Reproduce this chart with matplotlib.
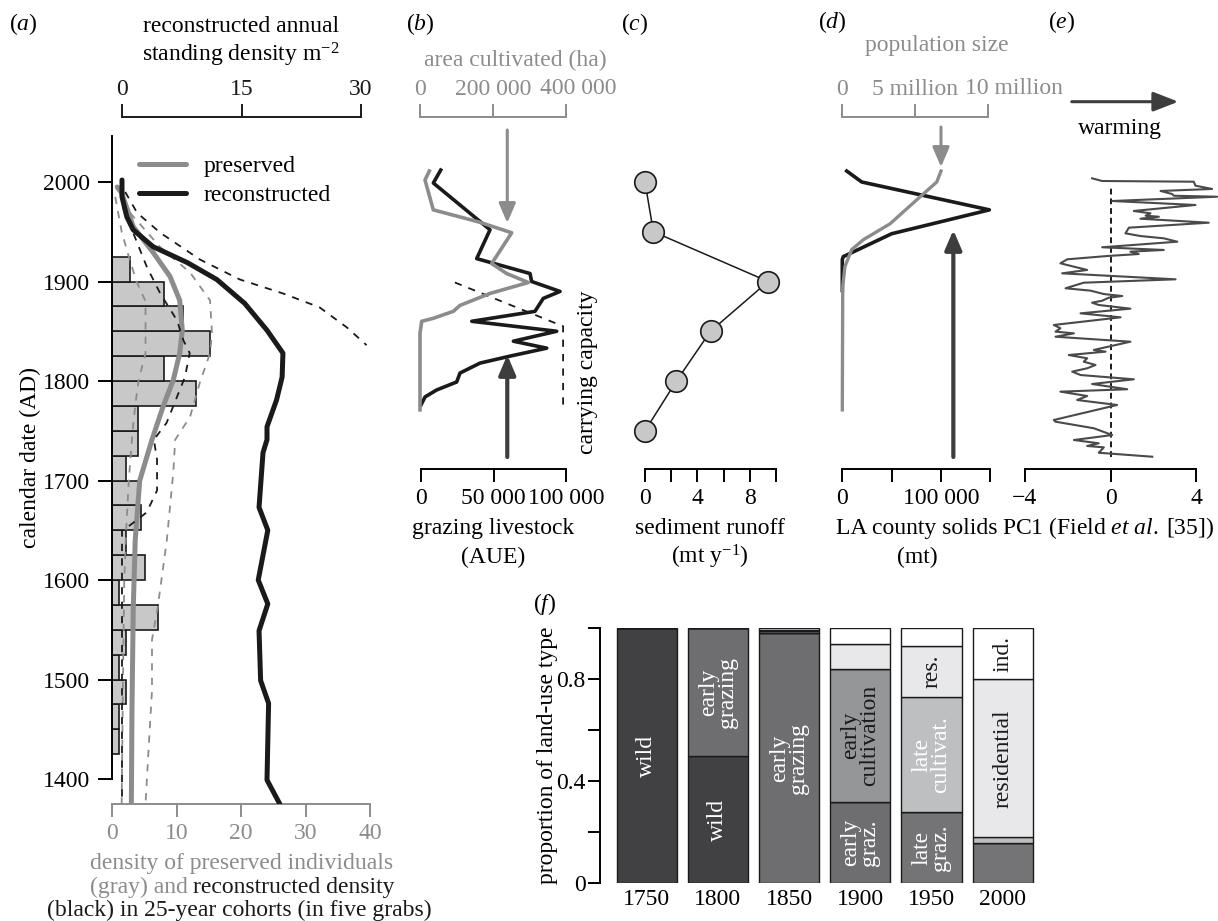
import numpy as np
import matplotlib
matplotlib.use('Agg')
import matplotlib.pyplot as plt
from matplotlib.lines import Line2D

plt.rcParams['font.family'] = ['Liberation Serif', 'DejaVu Serif']
plt.rcParams['mathtext.fontset'] = 'custom'
plt.rcParams['mathtext.rm'] = 'Liberation Serif'
plt.rcParams['mathtext.it'] = 'Liberation Serif:italic'
plt.rcParams['font.size'] = 17
plt.rcParams['axes.linewidth'] = 1.4
plt.rcParams['xtick.major.width'] = 1.4
plt.rcParams['ytick.major.width'] = 1.4

BLACK = '#1a1a1a'
GRAY = '#8c8c8c'
DARK = '#3d3d3d'
BAR_FILL = '#c8c8c8'

# ---- (a) densities -------------------------------------------------------
bin_start = [1425, 1450, 1475, 1500, 1525, 1550, 1575, 1600, 1625, 1650,
             1675, 1700, 1725, 1750, 1775, 1800, 1825, 1850, 1875, 1900]
preserved_counts = [1.1, 1.1, 2.1, 1.1, 2.1, 7.1, 1.1, 5.1, 2.1, 4.5,
                    4.0, 2.1, 4.0, 4.0, 13.1, 8.1, 15.2, 11.0, 8.1, 2.8]

pres_years = [1995, 1989, 1955, 1929, 1905, 1881, 1851, 1828, 1801, 1774,
              1741, 1700, 1640, 1573, 1472, 1375]
pres_vals = [0.8, 1.5, 3.3, 6.4, 9.0, 10.5, 10.9, 10.5, 9.5, 7.9,
             6.2, 4.3, 3.6, 3.3, 3.1, 3.0]
pres_hi_years = [1969, 1935, 1909, 1881, 1848, 1828, 1798, 1764, 1741, 1708,
                 1640, 1573, 1540, 1489, 1422, 1375]
pres_hi = [2.8, 7.4, 12.1, 15.2, 15.5, 15.2, 13.6, 12.1, 9.8, 9.5,
           8.5, 7.1, 6.2, 6.2, 5.6, 5.2]
pres_lo_years = [1985, 1950, 1925, 1900, 1880, 1850, 1828, 1800, 1775, 1750,
                 1700, 1650, 1600, 1500, 1375]
pres_lo = [0.5, 1.5, 2.6, 3.8, 5.2, 5.2, 5.2, 4.1, 3.6, 3.2,
           2.6, 2.2, 1.9, 1.7, 1.5]

rec_years = [2002, 1985, 1965, 1952, 1935, 1919, 1902, 1878, 1851, 1828,
             1804, 1781, 1754, 1741, 1728, 1673, 1650, 1600, 1576, 1549,
             1499, 1476, 1399, 1375]
rec_vals = [0, 0, 0.6, 1.4, 3.9, 8.2, 11.9, 15.4, 18.2, 20.2,
            20.1, 19.4, 18.2, 18.2, 17.7, 17.2, 18.3, 17.1, 18.3, 17.2,
            17.4, 18.4, 18.2, 19.8]
rec_hi_years = [1990, 1969, 1949, 1922, 1902, 1888, 1874, 1854, 1836]
rec_hi = [0.4, 1.9, 4.8, 9.8, 14.8, 20.2, 24.8, 28.2, 30.7]
rec_lo_years = [1975, 1949, 1915, 1888, 1861, 1841, 1828, 1804, 1774, 1758,
                1741, 1721, 1690, 1668, 1655, 1650, 1375]
rec_lo = [0.1, 1.4, 3.1, 4.8, 6.9, 7.7, 8.5, 7.9, 6.4, 5.6,
          4.0, 4.4, 4.4, 3.1, 1.0, 0, 0]

# ---- (b) livestock / cultivation ---------------------------------------
livestock_years = [2012, 1999, 1952, 1923, 1908, 1900, 1890, 1883, 1870, 1860,
                   1850, 1840, 1833, 1825, 1818, 1808, 1799, 1791, 1784, 1776]
livestock = [13600, 8500, 47600, 38400, 75200, 76300, 95900, 84300, 78600, 35000,
             93600, 63700, 86700, 61400, 40700, 26900, 24600, 10800, 2800, 0]
area_years = [2011, 2002, 1972, 1960, 1949, 1918, 1908, 1899, 1888, 1876,
              1870, 1863, 1860, 1848, 1771]
area = [25500, 13700, 36400, 159700, 251200, 196400, 237500, 296700, 191800, 109600,
        91200, 36400, 4700, 0, 0]
carrying_years = [1899, 1855, 1772]
carrying = [23400, 98000, 98000]

# ---- (c) sediment --------------------------------------------------------
sed_years = [2000, 1950, 1900, 1850, 1800, 1750]
sediment = [0, 0.64, 9.4, 5.0, 2.4, 0]

# ---- (d) solids / population --------------------------------------------
solids_years = [2011, 2000, 1972, 1948, 1925, 1922, 1891]
solids = [4500, 19700, 149000, 50000, 1000, 0, 0]
pop_years = [2011, 2000, 1985, 1958, 1942, 1932, 1915, 1895, 1771]
pop_millions = [6.76, 6.47, 5.32, 3.27, 1.44, 0.64, 0.18, 0.03, 0]

# ---- (e) PC1 -------------------------------------------------------------
pc1_years = [2003.7, 2001.0, 2000.3, 1996.3, 1993.0, 1991.0, 1987.9, 1986.2, 1985.2, 1980.9,
             1976.9, 1970.9, 1968.5, 1966.1, 1965.1, 1963.1, 1959.1, 1954.1, 1948.4, 1945.7,
             1943.4, 1940.0, 1934.4, 1931.7, 1930.0, 1927.6, 1925.6, 1922.3, 1918.3, 1914.9,
             1911.6, 1908.2, 1902.2, 1898.8, 1893.2, 1890.8, 1887.4, 1885.4, 1883.7, 1880.7,
             1878.7, 1876.4, 1872.7, 1868.0, 1864.0, 1856.3, 1853.0, 1849.6, 1847.9, 1844.5,
             1839.5, 1831.2, 1829.5, 1826.1, 1822.8, 1819.4, 1816.1, 1812.8, 1809.4, 1806.0,
             1801.7, 1797.0, 1791.7, 1789.3, 1784.9, 1780.9, 1775.9, 1760.8, 1759.1, 1752.5,
             1745.7, 1740.7, 1737.4, 1734.7, 1733.3, 1727.9, 1723.9]
pc1 = [-0.86, -0.39, 3.89, 3.97, 4.75, 2.34, 2.88, 2.96, 4.98, 0.08,
       3.97, 1.09, 1.87, 1.64, 2.26, 1.40, 4.59, 0.86, 0.70, 1.40,
       2.49, 3.12, -0.39, 2.49, 0.93, 1.32, -0.16, -2.02, -2.34, -1.71,
       -1.09, -2.26, 3.04, -1.25, -2.10, -0.93, -0.31, 0.55, -0.08, -0.39,
       -0.86, -0.55, 0.93, -1.40, 0.47, -2.65, -2.34, -2.57, -1.71, -2.57,
       0.93, -0.78, -0.23, -1.95, -1.09, -1.25, -0.70, -1.09, -1.79, -1.40,
       1.09, -0.86, 0.78, -2.34, -1.09, -1.56, 0.31, -2.65, -2.57, -0.78,
       0.08, -1.71, -0.55, -1.09, -0.31, -0.55, 1.95]

# ---- (f) land use --------------------------------------------------------
land_years = ['1750', '1800', '1850', '1900', '1950', '2000']
land_types = ['wild', 'early grazing', 'late grazing', 'early cultivation',
              'late cultivation', 'residential', 'industrial']
wild = [1.0, 0.5, 0, 0, 0, 0]
early_grazing = [0, 0.5, 0.98, 0.32, 0, 0]
late_grazing = [0, 0, 0, 0, 0.28, 0.16]
early_cultivation = [0, 0, 0.008, 0.52, 0, 0]
late_cultivation = [0, 0, 0, 0, 0.45, 0.02]
residential = [0, 0, 0.006, 0.10, 0.20, 0.62]
industrial = [0, 0, 0.006, 0.06, 0.07, 0.20]
land_colors = ['#414143', '#6e6e70', '#747476', '#959698', '#bebfc1', '#e8e8ea', 'white']
text_colors = ['white', 'white', 'white', BLACK, 'white', BLACK, BLACK]
bar_text = [(0, 'wild', 'wild'), (1, 'wild', 'wild'),
            (1, 'early grazing', 'early\ngrazing'), (2, 'early grazing', 'early\ngrazing'),
            (3, 'early grazing', 'early\ngraz.'), (3, 'early cultivation', 'early\ncultivation'),
            (4, 'late grazing', 'late\ngraz.'), (4, 'late cultivation', 'late\ncultivat.'),
            (4, 'residential', 'res.'), (5, 'residential', 'residential'),
            (5, 'industrial', 'ind.')]

W, H = 1218, 921
fig = plt.figure(figsize=(W / 100, H / 100), dpi=100)


def box(l, t, r, b):
    return [l / W, 1 - b / H, (r - l) / W, (b - t) / H]


def at(x, y):
    return x / W, 1 - y / H


def yr(py):  # pixel row -> calendar year, shared by panels a-e
    return 2000 + (182 - py) / 0.995


def only_bottom(a):
    for s in ['left', 'right', 'top']:
        a.spines[s].set_visible(False)
    a.set_yticks([])


def top_scale(a, color, bounds, ticks, labels):
    for s in ['left', 'right', 'bottom']:
        a.spines[s].set_visible(False)
    a.spines['top'].set_position(('outward', 13.7))
    a.spines['top'].set_bounds(*bounds)
    a.spines['top'].set_color(color)
    a.set_xticks(ticks)
    a.set_xticklabels(labels)
    a.tick_params(axis='x', colors=color, length=9.5, pad=3)


arrow = '-|>,head_length=0.7,head_width=0.3'

# ======================= (a) =======================
ax = fig.add_axes(box(112, 136, 400, 804))
ax.set_xlim(0, (400 - 112) / 6.45)
ax.set_ylim(yr(804), yr(136))
ax.barh(np.array(bin_start) + 12.5, preserved_counts, height=25, color=BAR_FILL,
        edgecolor=BLACK, lw=1.2, zorder=1)
ax.plot(pres_lo, pres_lo_years, color=GRAY, lw=1.3, ls=(0, (4, 4)), zorder=2)
ax.plot(pres_hi, pres_hi_years, color=GRAY, lw=1.3, ls=(0, (4, 4)), zorder=2)
ax.plot(pres_vals, pres_years, color=GRAY, lw=3.6, solid_capstyle='round', zorder=3)
for s in ['top', 'right']:
    ax.spines[s].set_visible(False)
ax.spines['left'].set_bounds(1400, yr(136))
ax.spines['bottom'].set_bounds(0, 40)
ax.spines['bottom'].set_color(GRAY)
ax.set_yticks([1400, 1500, 1600, 1700, 1800, 1900, 2000])
ax.tick_params(axis='y', length=10, pad=5.5)
ax.set_xticks([0, 10, 20, 30, 40])
ax.tick_params(axis='x', colors=GRAY, length=9.5, pad=4)

axt = ax.twiny()
axt.set_xlim((112 - 122) / 7.967, (400 - 122) / 7.967)
axt.plot(rec_hi, rec_hi_years, color=BLACK, lw=1.3, ls=(0, (4, 4)))
axt.plot(rec_lo, rec_lo_years, color=BLACK, lw=1.3, ls=(0, (4, 4)))
axt.plot(rec_vals, rec_years, color=BLACK, lw=3.6, solid_capstyle='round')
top_scale(axt, BLACK, (0, 30), [0, 15, 30], ['0', '15', '30'])

ax.legend(handles=[Line2D([], [], color=GRAY, lw=3.6, solid_capstyle='round'),
                   Line2D([], [], color=BLACK, lw=3.6, solid_capstyle='round')],
          labels=['preserved', 'reconstructed'], frameon=False, loc='upper left',
          bbox_to_anchor=at(127, 144), bbox_transform=fig.transFigure,
          borderpad=0, handlelength=2.0, handletextpad=0.75, labelspacing=0.3)

fig.text(*at(241, 27), 'reconstructed annual', ha='center', va='center')
fig.text(*at(241, 55), 'standing density m$^{-2}$', ha='center', va='center')
fig.text(*at(30, 457), 'calendar date (AD)', rotation=90, ha='center', va='center')
fig.text(*at(242, 863), 'density of preserved individuals', color=GRAY, ha='center', va='center')
fig.text(*at(188, 887), '(gray) and', color=GRAY, ha='right', va='center')
fig.text(*at(193, 887), 'reconstructed density', color=BLACK, ha='left', va='center')
fig.text(*at(239, 910), '(black) in 25-year cohorts (in five grabs)', color=BLACK,
         ha='center', va='center')

# ======================= (b) =======================
axb = fig.add_axes(box(410, 136, 590, 469))
axb.set_xlim((410 - 421) / 0.00145, (590 - 421) / 0.00145)
axb.set_ylim(yr(469), yr(136))
axb.plot(carrying, carrying_years, color=BLACK, lw=1.3, ls=(0, (4, 4)))
axb.plot(livestock, livestock_years, color=BLACK, lw=2.6)
only_bottom(axb)
axb.spines['bottom'].set_bounds(0, 100000)
axb.set_xticks([0, 50000, 100000])
axb.set_xticklabels(['0', '50 000', '100 000'])
axb.tick_params(axis='x', length=9.5, pad=4.5)
axb.annotate('', xy=(59500, yr(223)), xytext=(59500, yr(130)), annotation_clip=False,
             arrowprops=dict(arrowstyle=arrow, color=GRAY, lw=2.2, shrinkA=0, shrinkB=0))
axb.annotate('', xy=(59500, yr(355)), xytext=(59500, yr(457)), annotation_clip=False,
             arrowprops=dict(arrowstyle=arrow, color=DARK, lw=3.0, shrinkA=0, shrinkB=0))

axbt = axb.twiny()
axbt.set_xlim((410 - 420) / 0.000365, (590 - 420) / 0.000365)
axbt.plot(area, area_years, color=GRAY, lw=2.6)
# last label is nudged right in the original, so it is set as a separate text
top_scale(axbt, GRAY, (0, 400000), [0, 200000, 400000], ['0', '200 000', ''])
fig.text(*at(578, 89), '400 000', color=GRAY, ha='center', va='center')

fig.text(*at(515, 60), 'area cultivated (ha)', color=GRAY, ha='center', va='center')
fig.text(*at(587, 372), 'carrying capacity', rotation=90, ha='center', va='center')
fig.text(*at(493, 528), 'grazing livestock', ha='center', va='center')
fig.text(*at(493, 557), '(AUE)', ha='center', va='center')

# ======================= (c) =======================
axc = fig.add_axes(box(635, 136, 790, 469))
axc.set_xlim((635 - 645) / 13.1, (790 - 645) / 13.1)
axc.set_ylim(yr(469), yr(136))
axc.plot(sediment, sed_years, color=BLACK, lw=1.1, marker='o', ms=15.5,
         mfc=BAR_FILL, mec=BLACK, mew=1.2, clip_on=False)
only_bottom(axc)
axc.spines['bottom'].set_bounds(0, 10)
axc.set_xticks([0, 2, 4, 6, 8, 10])
axc.set_xticklabels(['0', '', '4', '', '8', ''])
axc.tick_params(axis='x', length=9.5, pad=4.5)
fig.text(*at(710, 528), 'sediment runoff', ha='center', va='center')
fig.text(*at(710, 557), '(mt y$^{-1}$)', ha='center', va='center')

# ======================= (d) =======================
axd = fig.add_axes(box(835, 136, 1000, 469))
axd.set_xlim((835 - 842.3) / 0.000987, (1000 - 842.3) / 0.000987)
axd.set_ylim(yr(469), yr(136))
axd.plot(solids, solids_years, color=BLACK, lw=2.6)
only_bottom(axd)
axd.spines['bottom'].set_bounds(0, 150000)
axd.set_xticks([0, 50000, 100000, 150000])
axd.set_xticklabels(['0', '', '100 000', ''])
axd.tick_params(axis='x', length=9.5, pad=4.5)
axd.annotate('', xy=(100000, yr(167)), xytext=(100000, yr(127)), annotation_clip=False,
             arrowprops=dict(arrowstyle=arrow, color=GRAY, lw=2.2, shrinkA=0, shrinkB=0))
axd.annotate('', xy=(112500, yr(230)), xytext=(112500, yr(457)), annotation_clip=False,
             arrowprops=dict(arrowstyle=arrow, color=DARK, lw=3.0, shrinkA=0, shrinkB=0))

axdt = axd.twiny()
axdt.set_xlim((835 - 842.3) / 14.6, (1000 - 842.3) / 14.6)
axdt.plot(pop_millions, pop_years, color=GRAY, lw=2.4)
top_scale(axdt, GRAY, (0, 10), [0, 5, 10], ['0', '5 million', ''])
fig.text(*at(1014, 89), '10 million', color=GRAY, ha='center', va='center')
fig.text(*at(937, 45), 'population size', color=GRAY, ha='center', va='center')
fig.text(*at(917, 528), 'LA county solids', ha='center', va='center')
fig.text(*at(917, 557), '(mt)', ha='center', va='center')

# ======================= (e) =======================
axe = fig.add_axes(box(1015, 136, 1215, 469))
axe.set_xlim((1015 - 1110.5) / 21.4, (1215 - 1110.5) / 21.4)
axe.set_ylim(yr(469), yr(136))
axe.vlines(0, 1724, 1995, color=BLACK, lw=1.4, linestyles=(0, (3, 2)))
axe.plot(pc1, pc1_years, color='#4a4a4a', lw=1.5, clip_on=False)
only_bottom(axe)
axe.spines['bottom'].set_bounds(-4, 4)
axe.set_xticks([-4, 0, 4])
axe.tick_params(axis='x', length=9.5, pad=4.5)
axe.annotate('', xy=(3.17, yr(101.7)), xytext=(-1.81, yr(101.7)), annotation_clip=False,
             arrowprops=dict(arrowstyle='-|>,head_length=0.9,head_width=0.35',
                             color=DARK, lw=2.2, shrinkA=0, shrinkB=0))
fig.text(*at(1120, 128), 'warming', ha='center', va='center')
fig.text(*at(1108, 528), 'PC1 (Field $et\\ al.$\u2009[35])', ha='center', va='center')

# ======================= (f) =======================
axf = fig.add_axes(box(600, 628.3, 1040, 883.3))
axf.set_xlim((600 - 646.7) / 71.2, (1040 - 646.7) / 71.2)
axf.set_ylim(0, 1)
xpos = np.arange(len(land_years))
shares = [wild, early_grazing, late_grazing, early_cultivation,
          late_cultivation, residential, industrial]
bottom = np.zeros(len(land_years))
bottoms = {}
for name, vals, col in zip(land_types, shares, land_colors):
    axf.bar(xpos, vals, bottom=bottom, width=0.843, color=col, edgecolor=BLACK, lw=1.0)
    bottoms[name] = bottom.copy()
    bottom = bottom + np.array(vals)
for i, name, label in bar_text:
    k = land_types.index(name)
    mid = bottoms[name][i] + shares[k][i] / 2
    axf.text(xpos[i], mid, label, rotation=90, ha='center', va='center',
             color=text_colors[k], linespacing=0.85)
for s in ['top', 'right', 'bottom']:
    axf.spines[s].set_visible(False)
axf.spines['left'].set_bounds(0, 1)
axf.set_yticks([0, 0.2, 0.4, 0.6, 0.8, 1.0])
axf.set_yticklabels(['0', '', '0.4', '', '0.8', ''])
axf.tick_params(axis='y', length=8.5, pad=2)
axf.set_xticks(xpos)
axf.set_xticklabels(land_years)
axf.tick_params(axis='x', length=0, pad=4)
fig.text(*at(548, 755), 'proportion of land-use type', rotation=90, ha='center', va='center')

# panel letters
for letter, x, y in [('a', 23, 24), ('b', 420, 24), ('c', 635, 24),
                     ('d', 832, 22), ('e', 1062, 22), ('f', 545, 604)]:
    fig.text(*at(x, y), '($%s$)' % letter, ha='center', va='center')

fig.savefig('out.png', dpi=100)
